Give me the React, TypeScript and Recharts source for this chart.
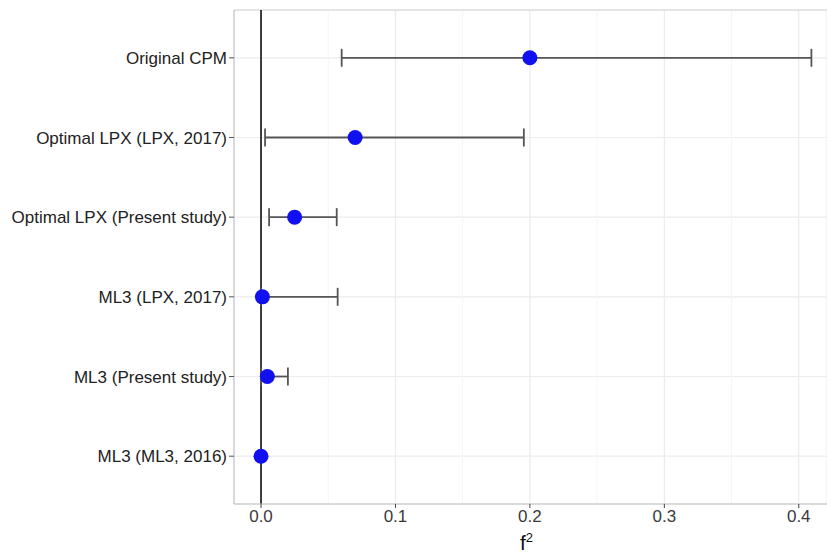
import {
  ScatterChart,
  Scatter,
  XAxis,
  YAxis,
  CartesianGrid,
  ErrorBar,
  ReferenceLine,
} from "recharts";

const studies = [
  "Original CPM",
  "Optimal LPX (LPX, 2017)",
  "Optimal LPX (Present study)",
  "ML3 (LPX, 2017)",
  "ML3 (Present study)",
  "ML3 (ML3, 2016)",
];
const estimates = [0.2, 0.07, 0.025, 0.001, 0.0047, 0];
const lowerCI = [0.06, 0.003, 0.006, 0, 0, null];
const upperCI = [0.4094, 0.1955, 0.0563, 0.057, 0.02, null];
const xTicks = [0, 0.1, 0.2, 0.3, 0.4];
const minorTicks = [0.05, 0.15, 0.25, 0.35];

const rows = studies.map((name, i) => {
  const lo = lowerCI[i];
  const hi = upperCI[i];
  return {
    name,
    pos: studies.length - i,
    est: estimates[i],
    err: lo == null || hi == null ? null : [estimates[i] - lo, hi - estimates[i]],
  };
});

const font = "'Liberation Sans', Arial, sans-serif";

function Dot(props: any) {
  const { cx, cy } = props;
  return <circle cx={cx} cy={cy} r={7.5} fill="#1010f0" />;
}

export default function App() {
  return (
    <div style={{ position: "absolute", left: 0, top: 0, width: 827, height: 553, background: "#fff", overflow: "hidden" }}>
      <ScatterChart width={827} height={553} margin={{ top: 10, right: 0, bottom: 0, left: 0 }}>
        <CartesianGrid stroke="#ebebeb" strokeWidth={1.2} />
        {minorTicks.map((t) => (
          <ReferenceLine key={t} x={t} stroke="#f5f5f5" strokeWidth={1} />
        ))}
        <ReferenceLine y={6.6} stroke="#dedede" strokeWidth={1.5} />
        <ReferenceLine x={0} stroke="#111" strokeWidth={1.6} />
        <XAxis
          type="number"
          dataKey="est"
          domain={[-0.0201, 0.421]}
          ticks={xTicks}
          allowDataOverflow
          height={49}
          stroke="#bfbfbf"
          tickSize={4}
          tickLine={{ stroke: "#444" }}
          tickFormatter={(v: number) => v.toFixed(1)}
          tick={{ fill: "#3a3a3a", fontSize: 17, fontFamily: font }}
        />
        <YAxis
          type="number"
          dataKey="pos"
          domain={[0.4, 6.6]}
          ticks={[1, 2, 3, 4, 5, 6]}
          allowDataOverflow
          width={234}
          stroke="#bfbfbf"
          tickSize={5}
          tickMargin={2}
          tickLine={{ stroke: "#555" }}
          tickFormatter={(v: number) => studies[studies.length - v]}
          tick={{ fill: "#222", fontSize: 17, fontFamily: font }}
        />
        <Scatter data={rows} shape={Dot} isAnimationActive={false}>
          <ErrorBar dataKey="err" direction="x" width={9} stroke="#555" strokeWidth={1.8} />
        </Scatter>
      </ScatterChart>
      <div
        style={{
          position: "absolute",
          left: 520,
          top: 526,
          fontFamily: font,
          fontSize: 21,
          color: "#111",
          lineHeight: "24px",
        }}
      >
        f<sup style={{ fontSize: 13 }}>2</sup>
      </div>
    </div>
  );
}
